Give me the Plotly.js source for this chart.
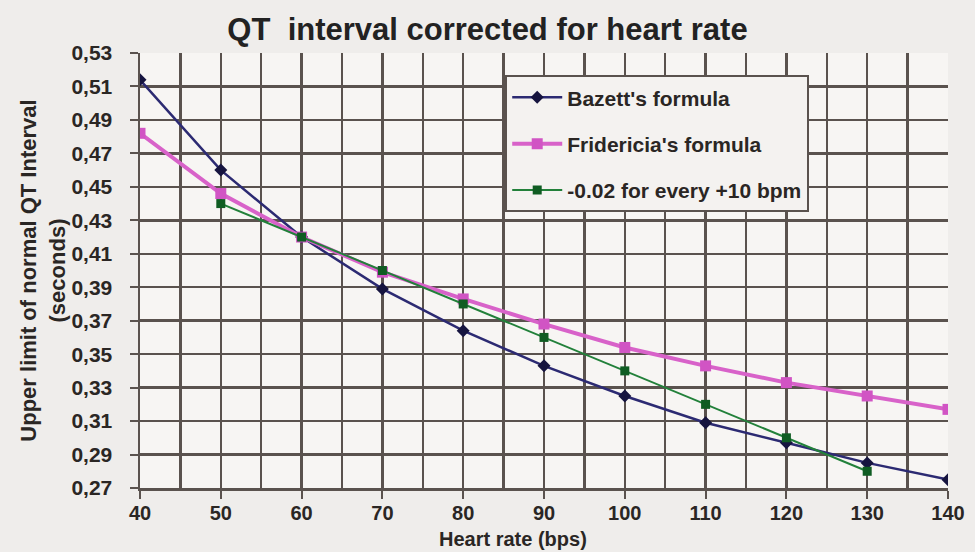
<!DOCTYPE html>
<html>
<head>
<meta charset="utf-8">
<script src="https://cdn.plot.ly/plotly-3.0.1.min.js"></script>
<style>html,body{margin:0;padding:0;background:#efedeb;}</style>
</head>
<body>
<div id="chart" style="width:975px;height:552px;"></div>
<script>
const heartRate = [40, 50, 60, 70, 80, 90, 100, 110, 120, 130, 140];
const bazett = [0.514, 0.460, 0.420, 0.389, 0.364, 0.343, 0.325, 0.309, 0.297, 0.285, 0.275];
const fridericia = [0.482, 0.446, 0.420, 0.399, 0.383, 0.368, 0.354, 0.343, 0.333, 0.325, 0.317];
const ruleHeartRate = [50, 60, 70, 80, 90, 100, 110, 120, 130];
const ruleValues = [0.44, 0.42, 0.40, 0.38, 0.36, 0.34, 0.32, 0.30, 0.28];
const seriesNames = ["Bazett's formula", "Fridericia's formula", "-0.02 for every +10 bpm"];
const xGridValues = [45, 50, 55, 60, 65, 70, 75, 80, 85, 90, 95, 100, 105, 110, 115, 120, 125, 130, 135];
const yGridValues = [0.29, 0.31, 0.33, 0.35, 0.37, 0.39, 0.41, 0.43, 0.45, 0.47, 0.49, 0.51];
const chartTitle = "QT&nbsp;&nbsp;interval corrected for heart rate";
const xTitle = "Heart rate (bps)";
const yTitle = "Upper limit of normal QT Interval<br>(seconds)";

const FONT = "Liberation Sans, Arial, sans-serif";
const GRID = "#5a524e";
const TXT = "#2a2624";

const traces = [
  {
    x: heartRate, y: bazett, name: seriesNames[0], type: "scatter", mode: "lines+markers",
    legendgroup: "a",
    line: {color: "#2c2a72", width: 2.5},
    marker: {symbol: "diamond", size: 10, color: "#16143f"}
  },
  {
    x: heartRate, y: fridericia, name: seriesNames[1], type: "scatter", mode: "lines+markers",
    legendgroup: "b",
    line: {color: "#d862c9", width: 4},
    marker: {symbol: "square", size: 11, color: "#d154c4"}
  },
  {
    x: ruleHeartRate, y: ruleValues, name: seriesNames[2], type: "scatter", mode: "lines+markers",
    legendgroup: "c",
    line: {color: "#22803a", width: 2},
    marker: {symbol: "square", size: 9, color: "#0f5c22"}
  }
];

const layout = {
  width: 975, height: 552,
  paper_bgcolor: "#efedeb",
  plot_bgcolor: "#f7f5f3",
  margin: {l: 140, r: 27, t: 53, b: 64},
  separators: ",.",
  font: {family: FONT, color: TXT},
  title: {
    text: "<b>" + chartTitle + "</b>",
    font: {family: FONT, size: 31, color: "#222"},
    x: 0.5, xanchor: "center", xref: "container",
    y: 0.948, yanchor: "middle", yref: "container"
  },
  xaxis: {
    range: [40, 140], dtick: 10, tick0: 40,
    showgrid: false,
    minor: {tickmode: "array", tickvals: xGridValues, ticks: "", showgrid: true, gridcolor: GRID, gridwidth: 2.5},
    showline: true, linecolor: GRID, linewidth: 2.5,
    ticks: "outside", ticklen: 8, tickwidth: 2, tickcolor: GRID,
    ticklabelstandoff: -3,
    tickfont: {family: FONT, size: 20, color: TXT, weight: "bold"},
    zeroline: false, fixedrange: true
  },
  yaxis: {
    range: [0.27, 0.53], dtick: 0.02, tick0: 0.27, tickformat: ".2f",
    showgrid: false,
    minor: {tickmode: "array", tickvals: yGridValues, ticks: "", showgrid: true, gridcolor: GRID, gridwidth: 2.5},
    showline: true, linecolor: GRID, linewidth: 2.5,
    ticks: "outside", ticklen: 8, tickwidth: 2, tickcolor: GRID,
    ticklabelstandoff: 13,
    tickfont: {family: FONT, size: 21, color: TXT, weight: "bold"},
    title: {text: "<b>" + yTitle + "</b>", font: {family: FONT, size: 22, color: TXT}, standoff: 0},
    zeroline: false, fixedrange: true
  },
  legend: {
    x: 0.452, y: 0.949, xanchor: "left", yanchor: "top",
    bgcolor: "#f4f2f0", bordercolor: GRID, borderwidth: 2,
    font: {family: FONT, size: 21, color: TXT, weight: "bold"},
    tracegroupgap: 16, traceorder: "grouped",
    itemwidth: 50
  },
  annotations: [
    {
      text: "<b>" + xTitle + "</b>", xref: "paper", yref: "paper",
      x: (513 - 140) / 808, y: -0.117, xanchor: "center", yanchor: "middle",
      showarrow: false, font: {family: FONT, size: 20, color: TXT}
    }
  ],
  showlegend: true
};

Plotly.newPlot("chart", traces, layout, {displayModeBar: false, staticPlot: true});
</script>
</body>
</html>
